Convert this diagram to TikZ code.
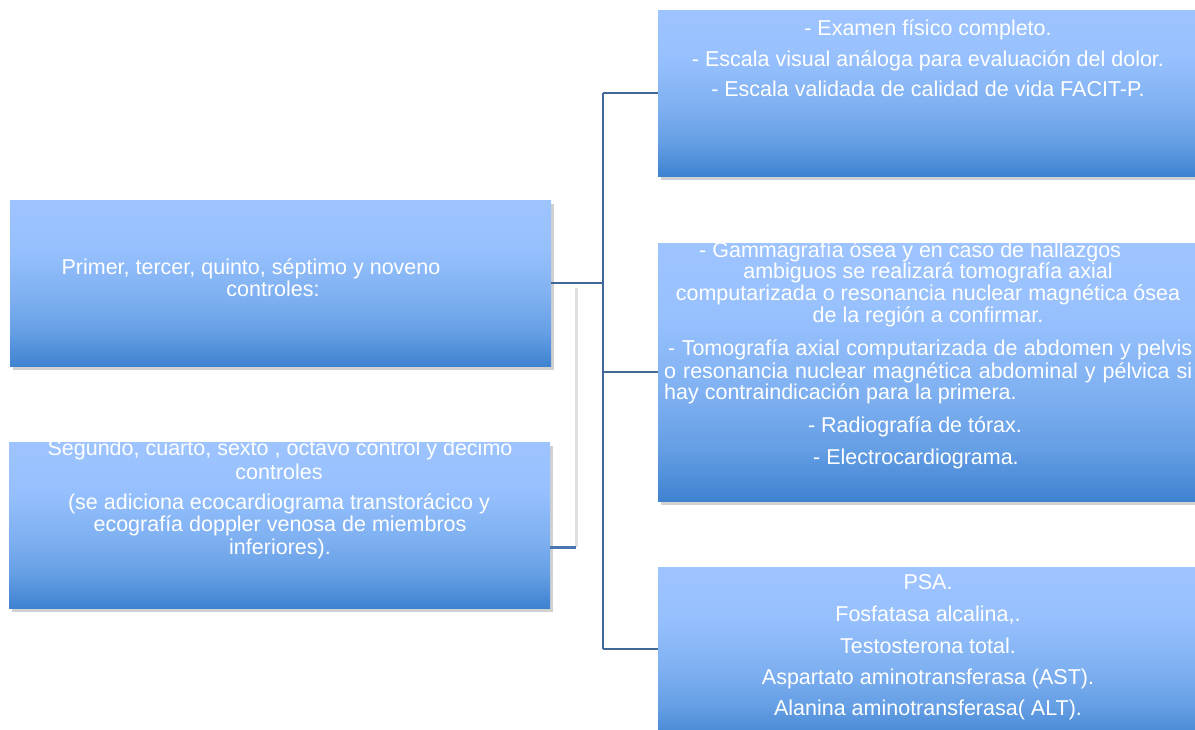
\documentclass[tikz,border=0pt]{standalone}
\usepackage{fontspec}
\setmainfont{Liberation Sans}
\usetikzlibrary{shadows}
\definecolor{conn}{RGB}{66,104,152}
\definecolor{stubc}{RGB}{74,118,176}
\definecolor{btop}{RGB}{158,196,255}
\definecolor{bup}{RGB}{150,192,253}
\definecolor{bmid}{RGB}{125,175,240}
\definecolor{blow}{RGB}{100,158,228}
\definecolor{bbot}{RGB}{62,130,208}
\pgfdeclareverticalshading{boxshade}{100bp}{color(0bp)=(bbot); color(25bp)=(bbot); color(35bp)=(blow); color(45bp)=(bmid); color(60bp)=(bup); color(75bp)=(btop); color(100bp)=(btop)}
\newcommand\txtfont{\fontsize{21.5}{24}\selectfont}
\tikzset{
  box/.style={shade, shading=boxshade, draw=none, anchor=north west, inner sep=0pt,
    drop shadow={shadow xshift=3pt, shadow yshift=-4pt, opacity=0.3, fill=black!60}},
  txt/.style={text=white, font=\txtfont, inner sep=0pt, anchor=mid},
  txtw/.style={txt, anchor=mid west},
  link/.style={draw=conn, line width=2pt},
}
\begin{document}
\begin{tikzpicture}[x=1pt,y=-1pt]
\useasboundingbox (0,0) rectangle (1195,730);
% boxes
\node[box, minimum width=541pt, minimum height=166pt] (A) at (10,200) {};
\node[box, minimum width=541pt, minimum height=166pt] (B) at (9,442) {};
\node[box, minimum width=542pt, minimum height=166pt] (B1) at (658,10) {};
\node[box, minimum width=542pt, minimum height=258pt] (B2) at (658,243) {};
\node[box, minimum width=542pt, minimum height=175pt] (B3) at (658,567) {};
% connectors
\coordinate (T1) at (603,93);
\coordinate (T2) at (603,372);
\coordinate (T3) at (603,649);
\coordinate (S0) at (576,288);
\coordinate (S) at (576,547);
\draw[link] (A.east) -- (A.east -| T1);
\draw[link] (T1) -- (T3);
\draw[link] (T1) -- (T1 -| B1.west);
\draw[link] (T2) -- (T2 -| B2.west);
\draw[link] (T3) -- (T3 -| B3.west);
\draw[black!12, line width=3pt] (S0) -- (S);
\draw[stubc, line width=3pt] (S -| B.east) -- (S);
% texts box 1
\node[txt] (t11) at (928,33) {- Examen físico completo.};
\node[txt] (t12) at (928,64) {- Escala visual análoga para evaluación del dolor.};
\node[txt] (t13) at (928,94) {- Escala validada de calidad de vida FACIT-P.};
% texts box 2
\node[txtw] (t21) at (699,255) {- Gammagrafía ósea y en caso de hallazgos};
\node[txt] (t22) at (928,276) {ambiguos se realizará tomografía axial};
\node[txt] (t23) at (928,298) {computarizada o resonancia nuclear magnética ósea};
\node[txt] (t24) at (928,320) {de la región a confirmar.};
\node[txtw] (t25) at (668,353) {\makebox[524pt][s]{- Tomografía axial computarizada de abdomen y pelvis}};
\node[txtw] (t26) at (664,376) {\makebox[528pt][s]{o resonancia nuclear magnética abdominal y pélvica si}};
\node[txtw] (t27) at (664,397) {hay contraindicación para la primera.};
\node[txt] (t28) at (915,430) {- Radiografía de tórax.};
\node[txt] (t29) at (916,462) {- Electrocardiograma.};
% texts box 3
\node[txt] (t31) at (928,587) {PSA.};
\node[txt] (t32) at (928,619) {Fosfatasa alcalina,.};
\node[txt] (t33) at (928,651) {Testosterona total.};
\node[txt] (t34) at (928,682) {Aspartato aminotransferasa (AST).};
\node[txt] (t35) at (928,713) {Alanina aminotransferasa( ALT).};
% texts box A
\node[txt] (ta1) at (251,272) {Primer, tercer, quinto, séptimo y noveno};
\node[txt] (ta2) at (273,294) {controles:};
% texts box B
\node[txt] (tb1) at (280,453) {Segundo, cuarto, sexto , octavo control y decimo};
\node[txt] (tb2) at (279,477) {controles};
\node[txt] (tb3) at (279,507) {(se adiciona ecocardiograma transtorácico y};
\node[txt] (tb4) at (280,529) {ecografía doppler venosa de miembros};
\node[txt] (tb5) at (280,552) {inferiores).};
\end{tikzpicture}
\end{document}
